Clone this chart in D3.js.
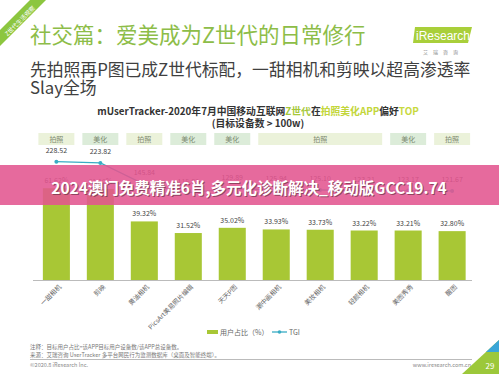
<!DOCTYPE html>
<html><head><meta charset="utf-8">
<script src="https://cdn.jsdelivr.net/npm/d3@7"></script>
<style>
html,body{margin:0;padding:0;background:#fff;}
svg{display:block;font-family:"Noto Sans CJK SC","Noto Sans",sans-serif;}
</style></head>
<body>
<svg id="c" width="499" height="374"></svg>
<script>
const categories = ["一甜相机","剪映","黄油相机","PicsArt美易照片编辑","天天P图","潮中画相机","美妆相机","轻颜相机","美图秀秀","醒图"];
const userShare = [61.62, 61.10, 39.32, 31.52, 35.02, 33.93, 33.73, 33.22, 33.21, 32.80];
const tgi = [228.52, 223.82, 145.84, 115.83, 129.89, 125.94, 125.10, 123.21, 123.17, 121.67];
const tabLabels = ["拍照","美化","拍照","美化","美化","拍照","美化","拍照"];
const tabSpans = [1,1,1,1,1,3,1,1];
const legendLabels = ["用户占比（%）","TGI"];

const svg = d3.select("#c");
const W = 499, H = 374;
const green = "#a8c735", teal = "#39acc4", gray = "#666";

// corner ribbon
svg.append("path").attr("d","M0,30 L30,0 L46,0 L0,46 Z").attr("fill","#8cc63f");
svg.append("text").attr("transform","translate(20,21) rotate(-45)").attr("text-anchor","middle").attr("dy","0.35em")
  .attr("font-size",6).attr("fill","#fff").text("Z世代生活观察");

// titles
svg.append("text").attr("x",30).attr("y",43).attr("font-size",21.5).attr("fill","#8dbd48").text("社交篇：爱美成为Z世代的日常修行");
svg.append("text").attr("x",30).attr("y",76).attr("font-size",16.8).attr("fill","#404040").text("先拍照再P图已成Z世代标配，一甜相机和剪映以超高渗透率");
svg.append("text").attr("x",30).attr("y",94).attr("font-size",16.8).attr("fill","#404040").text("Slay全场");

// logo
svg.append("path").attr("d","M415,27 L472,27 L468,43 L413,43 Z").attr("fill","#a9cf3a");
svg.append("text").attr("x",416).attr("y",40).attr("font-size",12).attr("fill","#fff").attr("font-family","Arial,Liberation Sans,sans-serif").text("iResearch");
svg.append("text").attr("x",443).attr("y",54).attr("font-size",5).attr("fill","#888").attr("text-anchor","middle").attr("letter-spacing",5).text("艾瑞咨询");

// chart title
const ct = svg.append("text").attr("x",258).attr("y",115).attr("text-anchor","middle").attr("font-size",9.8).attr("font-weight","bold").attr("fill","#333");
ct.append("tspan").text("mUserTracker-2020年7月中国移动互联网");
ct.append("tspan").attr("fill","#a6c83a").text("Z世代");
ct.append("tspan").text("在");
ct.append("tspan").attr("fill","#c3d63a").text("拍照美化APP");
ct.append("tspan").text("偏好");
ct.append("tspan").attr("fill","#c8d93e").text("TOP");
svg.append("text").attr("x",258).attr("y",127).attr("text-anchor","middle").attr("font-size",9.8).attr("font-weight","bold").attr("fill","#333").text("(目标设备数 > 100w)");

// scales
const x = d3.scaleBand().domain(categories).range([34.5,474]).paddingInner(0.385).paddingOuter(0.19);
const y = d3.scaleLinear().domain([0,70]).range([280,175.7]);
const yT = d3.scaleLinear().domain([100,250]).range([196.9,155.8]);

// tabs
let idx = 0;
tabLabels.forEach((lab,i)=>{
  const first = categories[idx], last = categories[idx+tabSpans[i]-1];
  const step = x.step();
  const x0 = x(first) + x.bandwidth()/2 - step/2 + 4;
  const x1 = x(last) + x.bandwidth()/2 + step/2 - 4;
  svg.append("rect").attr("x",x0).attr("y",133).attr("width",x1-x0).attr("height",12)
    .attr("fill", lab==="拍照" ? "#ebf2da" : "#dcecd9");
  svg.append("text").attr("x",(x0+x1)/2).attr("y",142).attr("text-anchor","middle").attr("font-size",7).attr("fill","#7d8a70").text(lab);
  idx += tabSpans[i];
});

// bars
svg.selectAll(".bar").data(categories).enter().append("rect")
  .attr("x",d=>x(d)).attr("width",x.bandwidth())
  .attr("y",(d,i)=>y(userShare[i])).attr("height",(d,i)=>y(0)-y(userShare[i]))
  .attr("fill",green);
svg.selectAll(".bl").data(categories).enter().append("text")
  .attr("x",d=>x(d)+x.bandwidth()/2).attr("y",(d,i)=>y(userShare[i])-5)
  .attr("text-anchor","middle").attr("font-size",7).attr("fill","#444")
  .text((d,i)=>userShare[i].toFixed(2)+"%");

// axis
const ax = svg.append("g").attr("transform","translate(0,280)").call(d3.axisBottom(x).tickSize(0).tickPadding(0));
ax.select(".domain").attr("stroke","#bbb").attr("stroke-width",1.2).attr("d","M33,0.5H472");
ax.selectAll(".tick text").attr("font-size",6.5).attr("fill",gray)
  .attr("text-anchor","end").attr("transform","translate(4,6) rotate(-45)").attr("dy","0.3em")
  .attr("font-family","\"Noto Sans CJK SC\",sans-serif");

// TGI line
const line = d3.line().x((d,i)=>x(categories[i])+x.bandwidth()/2).y(d=>yT(d));
svg.append("path").datum(tgi).attr("d",line).attr("fill","none").attr("stroke",teal).attr("stroke-width",1.3);
svg.selectAll(".pt").data(tgi).enter().append("circle")
  .attr("cx",(d,i)=>x(categories[i])+x.bandwidth()/2).attr("cy",d=>yT(d)).attr("r",2).attr("fill",teal);
svg.selectAll(".tl").data(tgi).enter().append("text")
  .attr("x",(d,i)=>x(categories[i])+x.bandwidth()/2).attr("y",d=>yT(d)-9)
  .attr("text-anchor","middle").attr("font-size",7).attr("fill","#444").text(d=>d.toFixed(2));

// legend
svg.append("rect").attr("x",207).attr("y",330).attr("width",11).attr("height",4).attr("fill",green);
svg.append("text").attr("x",220).attr("y",335).attr("font-size",7).attr("fill",gray).text(legendLabels[0]);
svg.append("line").attr("x1",272).attr("x2",287).attr("y1",332).attr("y2",332).attr("stroke",teal).attr("stroke-width",1.3);
svg.append("circle").attr("cx",279.5).attr("cy",332).attr("r",1.8).attr("fill",teal);
svg.append("text").attr("x",289).attr("y",335).attr("font-size",7).attr("fill",gray).text(legendLabels[1]);

// notes
svg.append("text").attr("x",30).attr("y",349).attr("font-size",5.5).attr("fill","#777").text("注释：目标用户占比=该APP目标用户设备数/该APP总设备数。");
svg.append("text").attr("x",30).attr("y",357).attr("font-size",5.5).attr("fill","#777").text("来源：艾瑞咨询 UserTracker 多平台网民行为监测数据库（桌面及智能终端）。");
svg.append("line").attr("x1",30).attr("x2",472).attr("y1",359.5).attr("y2",359.5).attr("stroke","#aaa").attr("stroke-width",0.8);
svg.append("text").attr("x",30).attr("y",367).attr("font-size",5.5).attr("fill","#888").text("©2020.8 iResearch Inc.");
svg.append("text").attr("x",471).attr("y",367).attr("text-anchor","end").attr("font-size",5.5).attr("fill","#888").text("www.iresearch.com.cn");

// corner triangle
svg.append("path").attr("d","M499,340 L462,374 L499,374 Z").attr("fill","#9cc83a");
svg.append("path").attr("d","M499,340 L486,352 L499,352 Z").attr("fill","#3aa6d8");
svg.append("text").attr("x",490).attr("y",369).attr("text-anchor","middle").attr("font-size",8).attr("fill","#fff").text("29");

// pink banner overlay
svg.append("rect").attr("x",0).attr("y",165).attr("width",W).attr("height",40).attr("fill","#e3558f").attr("opacity",0.88);
const bt = "2024澳门免费精准6肖,多元化诊断解决_移动版GCC19.74";
svg.append("text").attr("x",250).attr("y",195).attr("text-anchor","middle").attr("font-size",15.5).attr("font-weight","bold").attr("fill","#5a2a3a").attr("opacity",0.6).text(bt);
svg.append("text").attr("x",249).attr("y",194).attr("text-anchor","middle").attr("font-size",15.5).attr("font-weight","bold").attr("fill","#fff").text(bt);
</script>
</body></html>
